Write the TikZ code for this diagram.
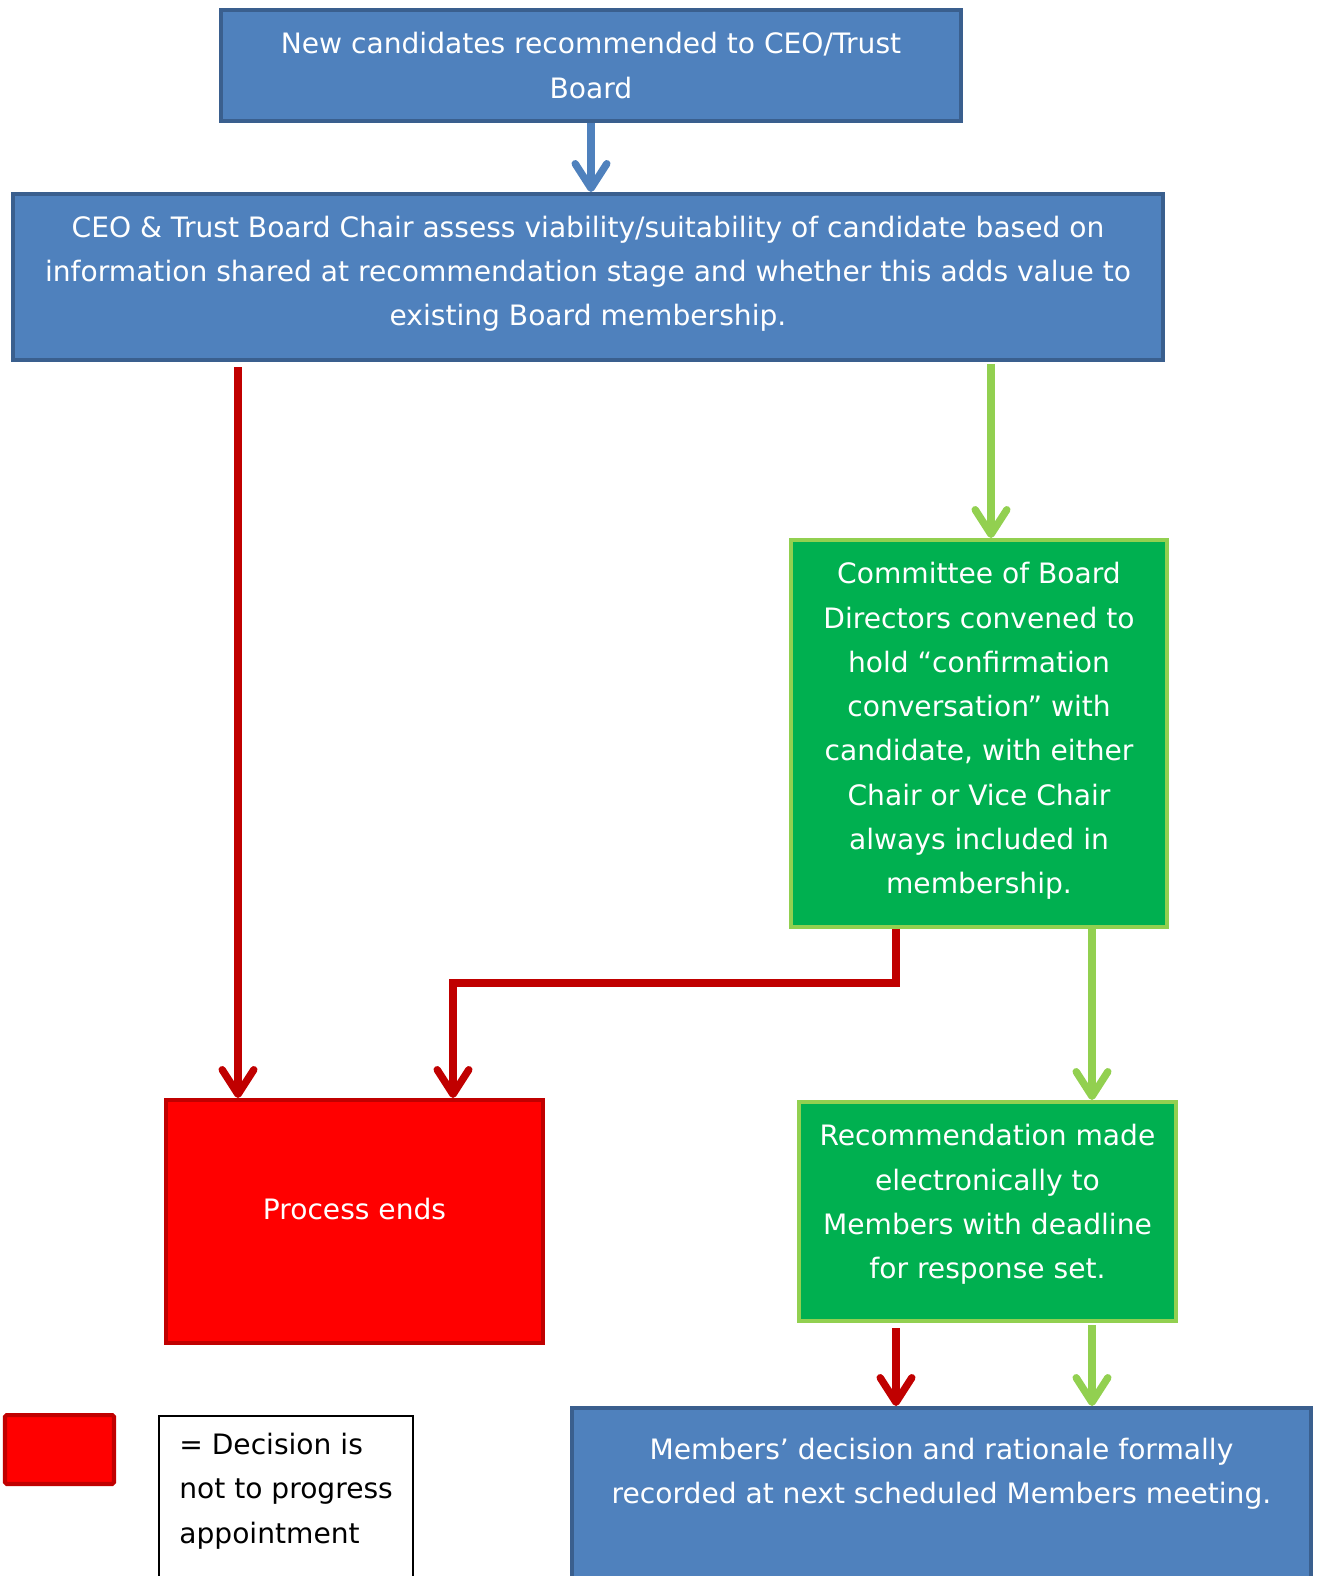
\documentclass[tikz,border=0pt]{standalone}
\usepackage{fontspec}
\setmainfont{DejaVu Sans}
\usetikzlibrary{arrows.meta}

\definecolor{boxblue}{HTML}{4F81BD}
\definecolor{lineblue}{HTML}{3A5F8E}
\definecolor{boxgreen}{HTML}{00B050}
\definecolor{linegreen}{HTML}{92D050}
\definecolor{boxred}{HTML}{FF0000}
\definecolor{linered}{HTML}{C00000}

\tikzset{
  box/.style={rectangle, align=center, text=white, line width=2.3pt, inner sep=0pt,
    font=\fontsize{16}{25.2}\selectfont},
  bluebox/.style={box, draw=lineblue, fill=boxblue},
  greenbox/.style={box, draw=linegreen, fill=boxgreen},
  redbox/.style={box, draw=linered, fill=boxred},
  flow/.style={line width=4.2pt, -{Straight Barb[length=14pt, width=18pt, round]}},
  bluearrow/.style={flow, draw=boxblue},
  greenarrow/.style={flow, draw=linegreen},
  redarrow/.style={flow, draw=linered},
}

\begin{document}
\begin{tikzpicture}[x=0.02cm, y=-0.02cm]
\useasboundingbox (0,0) rectangle (1327,1576);
\clip (0,0) rectangle (1327,1576);

% the boxes
\node[bluebox, minimum width=14.8cm, minimum height=2.22cm] (top) at (591,65.5)
  {New candidates recommended to CEO/Trust\\Board};
\node[bluebox, text depth=0.24cm, minimum width=23cm, minimum height=3.32cm] (assess) at (588,277)
  {CEO \& Trust Board Chair assess viability/suitability of candidate based on\\
   information shared at recommendation stage and whether this adds value to\\
   existing Board membership.};
\node[greenbox, text depth=0.22cm, minimum width=7.52cm, minimum height=7.74cm] (committee) at (979,733.5)
  {Committee of Board\\Directors convened to\\hold “confirmation\\conversation” with\\
   candidate, with either\\Chair or Vice Chair\\always included in\\membership.};
\node[redbox, text depth=0.52cm, minimum width=7.54cm, minimum height=4.86cm] (ends) at (354.5,1221.5)
  {Process ends};
\node[greenbox, text depth=0.4cm, minimum width=7.54cm, minimum height=4.38cm] (recommend) at (987.5,1211.5)
  {Recommendation made\\electronically to\\Members with deadline\\for response set.};
\node[bluebox, minimum width=14.78cm, minimum height=5.28cm] (members) at (941.5,1540) {};
\node[box] (memberstext) at (941.5,1474)
  {Members’ decision and rationale formally\\recorded at next scheduled Members meeting.};

% legend
\node[redbox, rounded corners=1pt, minimum width=2.18cm, minimum height=1.38cm] (key) at (59.5,1449.5) {};
\node[draw=black, line width=0.8pt, minimum width=5.08cm, minimum height=4cm] (legendbox) at (286,1516) {};
\node[align=left, anchor=west, inner sep=0pt, font=\fontsize{16}{25.2}\selectfont] (legendtext) at (179,1491)
  {= Decision is\\not to progress\\appointment};

% helper columns
\coordinate (redleft) at (238,0);
\coordinate (greenright) at (991,0);
\coordinate (redmid) at (896,0);
\coordinate (redjoin) at (453,983);
\coordinate (greenmid) at (1092,0);

% the connectors
\draw[bluearrow] (top.south) -- (top.south |- assess.north);
\draw[redarrow, shorten <=3pt] (redleft |- assess.south) -- (redleft |- ends.north);
\draw[greenarrow, shorten <=1pt] (greenright |- assess.south) -- (greenright |- committee.north);
\draw[redarrow] (redmid |- committee.south) |- (redjoin) -- (redjoin |- ends.north);
\draw[greenarrow] (greenmid |- committee.south) -- (greenmid |- recommend.north);
\draw[redarrow, shorten <=3pt] (redmid |- recommend.south) -- (redmid |- members.north);
\draw[greenarrow, shorten <=1pt] (greenmid |- recommend.south) -- (greenmid |- members.north);
\end{tikzpicture}
\end{document}
